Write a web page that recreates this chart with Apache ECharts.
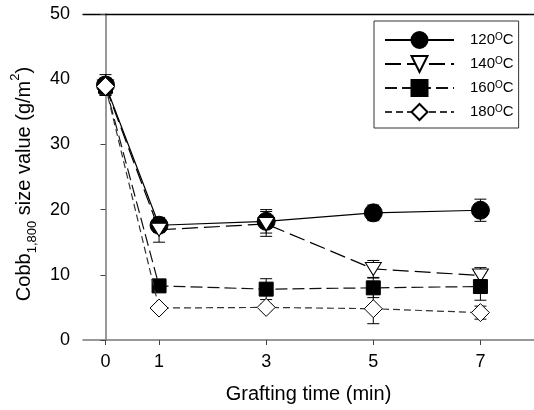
<!DOCTYPE html>
<html>
<head>
<meta charset="utf-8">
<script src="https://cdn.jsdelivr.net/npm/echarts@6/dist/echarts.min.js"></script>
<style>
  html, body { margin: 0; padding: 0; background: #fff; }
  #chart { width: 534px; height: 410px; }
</style>
</head>
<body>
<div id="chart"></div>
<script>
var times = [0, 1, 3, 5, 7];
var tickValues = [0, 1, 3, 5, 7];
var seriesNames = ['120', '140', '160', '180'];

var val120 = [39.1, 17.6, 18.2, 19.5, 19.9];
var val140 = [38.9, 16.9, 17.8, 10.9, 9.9];
var val160 = [38.9, 8.3, 7.8, 8.0, 8.2];
var val180 = [38.9, 4.9, 5.0, 4.8, 4.2];

var err120 = [1.6, 1.1, 1.8, 1.2, 1.7];
var err140 = [1.3, 1.9, 1.9, 1.3, 1.2];
var err160 = [1.2, 0.6, 1.6, 1.5, 2.1];
var err180 = [1.0, 0.4, 0.5, 2.3, 1.0];

var font = 'Liberation Sans, Arial, sans-serif';

function pts(vals) {
    return times.map(function (t, i) { return [t, vals[i]]; });
}
function errs(vals, e) {
    return times.map(function (t, i) { return [t, vals[i] - e[i], vals[i] + e[i]]; });
}

function errorSeries(vals, e) {
    return {
        type: 'custom',
        data: errs(vals, e),
        z: 1,
        silent: true,
        renderItem: function (params, api) {
            var top = api.coord([api.value(0), api.value(2)]);
            var bot = api.coord([api.value(0), api.value(1)]);
            var hw = 6;
            var st = { stroke: '#000', lineWidth: 1 };
            return {
                type: 'group',
                children: [
                    { type: 'line', shape: { x1: top[0], y1: top[1], x2: bot[0], y2: bot[1] }, style: st },
                    { type: 'line', shape: { x1: top[0] - hw, y1: top[1], x2: top[0] + hw, y2: top[1] }, style: st },
                    { type: 'line', shape: { x1: bot[0] - hw, y1: bot[1], x2: bot[0] + hw, y2: bot[1] }, style: st }
                ]
            };
        }
    };
}

var chart = echarts.init(document.getElementById('chart'));
var option = {
    animation: false,
    backgroundColor: '#fff',
    grid: { left: 83, right: 0, top: 14, bottom: 70 },
    legend: {
        left: 374,
        top: 21,
        orient: 'vertical',
        data: seriesNames,
        itemWidth: 69,
        itemHeight: 20,
        itemGap: 6,
        padding: [10, 5, 7, 10],
        borderColor: '#333',
        borderWidth: 1,
        formatter: function (n) { return '{pad|}' + n + '{sup|O}C'; },
        textStyle: {
            fontFamily: font,
            fontSize: 15,
            color: '#000',
            rich: {
                pad: { width: 11 },
                sup: { fontSize: 10, lineHeight: 10, verticalAlign: 'top', color: '#000', fontFamily: font }
            }
        }
    },
    xAxis: [{
        type: 'value',
        min: -0.42,
        max: 8,
        name: 'Grafting time (min)',
        nameLocation: 'middle',
        nameGap: 44,
        nameTextStyle: { fontFamily: font, fontSize: 20, color: '#000' },
        axisLine: { lineStyle: { color: '#777', width: 1.5 } },
        axisTick: { customValues: tickValues, length: 5, lineStyle: { color: '#444' } },
        axisLabel: { customValues: tickValues, margin: 13, fontFamily: font, fontSize: 18, color: '#000' },
        splitLine: { show: false }
    }, {
        type: 'value',
        position: 'top',
        min: -0.42,
        max: 8,
        axisLine: { show: true, lineStyle: { color: '#000', width: 1.3 } },
        axisTick: { show: false },
        axisLabel: { show: false },
        splitLine: { show: false }
    }],
    yAxis: {
        type: 'value',
        min: 0,
        max: 50,
        interval: 10,
        name: 'Cobb{sub|1,800} size value (g/m{sup|2})',
        nameLocation: 'middle',
        nameGap: 43,
        nameTextStyle: {
            fontFamily: font,
            fontSize: 20,
            color: '#000',
            lineHeight: 30,
            padding: [0, 14, 0, 0],
            rich: {
                sub: { fontSize: 13, lineHeight: 13, verticalAlign: 'bottom', color: '#000', fontFamily: font },
                sup: { fontSize: 13, lineHeight: 13, verticalAlign: 'top', color: '#000', fontFamily: font }
            }
        },
        axisLine: { show: true, lineStyle: { color: '#777', width: 1.5 } },
        axisTick: { show: true, length: 5, lineStyle: { color: '#444' } },
        axisLabel: { margin: 13, fontFamily: font, fontSize: 18, color: '#000' },
        splitLine: { show: false }
    },
    series: [
        errorSeries(val120, err120),
        errorSeries(val140, err140),
        errorSeries(val160, err160),
        errorSeries(val180, err180),
        {
            name: '120', type: 'line', data: pts(val120), z: 3,
            symbol: 'circle', symbolSize: 18,
            lineStyle: { color: '#000', width: 1.2, type: 'solid' },
            itemStyle: { color: '#000', borderColor: '#000', borderWidth: 1 }
        },
        {
            name: '140', type: 'line', data: pts(val140), z: 4,
            symbol: 'triangle', symbolRotate: 180, symbolSize: [16, 13],
            lineStyle: { color: '#000', width: 1.2, type: [16, 6] },
            itemStyle: { color: '#fff', borderColor: '#000', borderWidth: 1 }
        },
        {
            name: '160', type: 'line', data: pts(val160), z: 5,
            symbol: 'rect', symbolSize: 14,
            lineStyle: { color: '#111', width: 1.2, type: [12, 5] },
            itemStyle: { color: '#000', borderColor: '#000', borderWidth: 1 }
        },
        {
            name: '180', type: 'line', data: pts(val180), z: 6,
            symbol: 'diamond', symbolSize: 18,
            lineStyle: { color: '#333', width: 1.2, type: [7, 4] },
            itemStyle: { color: '#fff', borderColor: '#000', borderWidth: 1 }
        }
    ]
};
chart.setOption(option);
</script>
</body>
</html>
